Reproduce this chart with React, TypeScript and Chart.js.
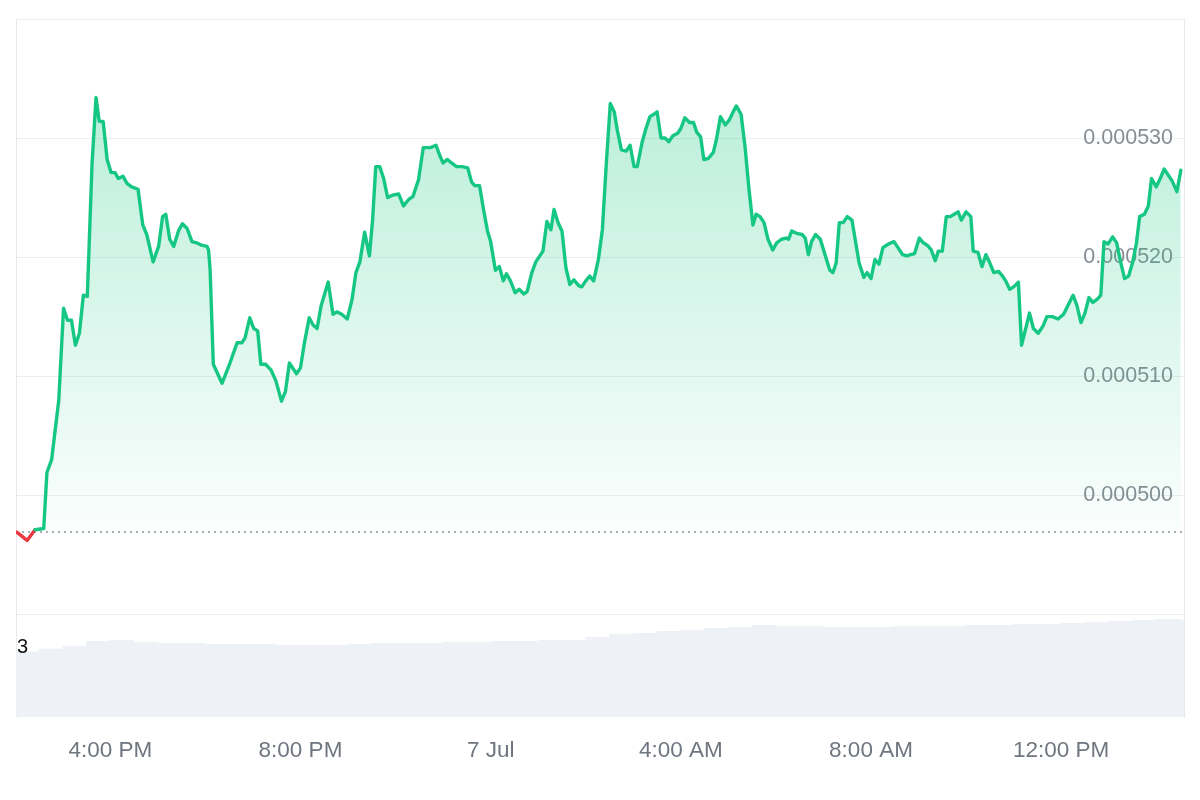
import React, { useEffect, useRef } from 'react';
import { Chart, registerables } from 'chart.js';

Chart.register(...registerables);

// Time in minutes since 2:00 PM (6 Jul)
const priceMinutes = [
  2, 15, 25, 36, 40, 46, 55, 61, 66, 71, 76, 81, 86, 91, 97, 102, 106, 111, 116, 121,
  126, 130, 136, 141, 147, 155, 161, 166, 174, 181, 186, 190, 195, 200, 206, 211, 217, 223, 229, 235,
  242, 244, 246, 250, 261, 271, 280, 286, 290, 296, 301, 306, 310, 316, 323, 329, 336, 341, 346, 351,
  355, 360, 365, 371, 376, 381, 386, 395, 401, 406, 412, 419, 425, 430, 435, 441, 447, 451, 455, 460,
  465, 470, 476, 484, 490, 496, 502, 509, 515, 519, 524, 531, 536, 540, 545, 551, 557, 564, 571, 576,
  580, 586, 591, 596, 600, 606, 611, 616, 620, 625, 631, 636, 642, 646, 652, 657, 666, 671, 676, 680,
  685, 690, 695, 700, 705, 711, 715, 720, 725, 730, 736, 741, 746, 751, 756, 760, 765, 771, 776, 781,
  785, 791, 796, 801, 806, 810, 815, 820, 825, 830, 836, 840, 845, 851, 856, 860, 865, 869, 875, 881,
  885, 890, 896, 901, 906, 910, 916, 921, 926, 931, 935, 940, 945, 950, 956, 961, 967, 973, 976, 980,
  986, 993, 997, 1001, 1005, 1010, 1016, 1022, 1028, 1032, 1036, 1040, 1045, 1050, 1056, 1060, 1065, 1071, 1075, 1080,
  1085, 1090, 1095, 1102, 1109, 1114, 1120, 1125, 1130, 1135, 1141, 1146, 1151, 1156, 1161, 1165, 1170, 1175, 1180, 1185,
  1190, 1194, 1200, 1206, 1209, 1215, 1220, 1225, 1230, 1235, 1241, 1246, 1250, 1255, 1260, 1266, 1270, 1276, 1280, 1285,
  1291, 1297, 1302, 1309, 1316, 1323, 1329, 1335, 1340, 1345, 1350, 1355, 1360, 1366, 1370, 1374, 1379, 1385, 1390, 1395,
  1400, 1405, 1410, 1415, 1419, 1425, 1430, 1434, 1440, 1445, 1450, 1455, 1460, 1466, 1471,
];

const priceValues = [
  0.0004969, 0.0004962, 0.0004971, 0.0004972, 0.0005019, 0.0005030, 0.0005080, 0.0005157, 0.0005147, 0.0005147,
  0.0005126, 0.0005136, 0.0005168, 0.0005167, 0.0005279, 0.0005334, 0.0005314, 0.0005314, 0.0005282, 0.0005271,
  0.0005271, 0.0005266, 0.0005268, 0.0005262, 0.0005259, 0.0005257, 0.0005227, 0.0005219, 0.0005196, 0.0005209,
  0.0005234, 0.0005236, 0.0005215, 0.0005209, 0.0005222, 0.0005228, 0.0005224, 0.0005213, 0.0005212, 0.0005210,
  0.0005209, 0.0005206, 0.0005189, 0.0005110, 0.0005094, 0.0005111, 0.0005128, 0.0005128, 0.0005132, 0.0005149,
  0.0005140, 0.0005138, 0.0005110, 0.0005110, 0.0005105, 0.0005096, 0.0005079, 0.0005087, 0.0005111, 0.0005106,
  0.0005102, 0.0005107, 0.0005128, 0.0005149, 0.0005143, 0.0005140, 0.0005159, 0.0005179, 0.0005152, 0.0005154,
  0.0005152, 0.0005148, 0.0005164, 0.0005187, 0.0005196, 0.0005221, 0.0005201, 0.0005231, 0.0005276, 0.0005276,
  0.0005266, 0.0005250, 0.0005252, 0.0005253, 0.0005243, 0.0005248, 0.0005251, 0.0005265, 0.0005292, 0.0005292,
  0.0005292, 0.0005294, 0.0005285, 0.0005279, 0.0005282, 0.0005279, 0.0005276, 0.0005276, 0.0005275, 0.0005263,
  0.0005260, 0.0005260, 0.0005240, 0.0005222, 0.0005213, 0.0005189, 0.0005192, 0.0005180, 0.0005186, 0.0005180,
  0.0005170, 0.0005173, 0.0005169, 0.0005171, 0.0005187, 0.0005196, 0.0005205, 0.0005230, 0.0005223, 0.0005240,
  0.0005229, 0.0005222, 0.0005191, 0.0005177, 0.0005181, 0.0005176, 0.0005175, 0.0005180, 0.0005184, 0.0005180,
  0.0005198, 0.0005223, 0.0005279, 0.0005329, 0.0005322, 0.0005306, 0.0005290, 0.0005289, 0.0005294, 0.0005276,
  0.0005276, 0.0005296, 0.0005308, 0.0005318, 0.0005320, 0.0005322, 0.0005300, 0.0005300, 0.0005297, 0.0005302,
  0.0005304, 0.0005308, 0.0005317, 0.0005313, 0.0005313, 0.0005305, 0.0005301, 0.0005282, 0.0005283, 0.0005288,
  0.0005299, 0.0005318, 0.0005311, 0.0005315, 0.0005322, 0.0005327, 0.0005320, 0.0005293, 0.0005257, 0.0005227,
  0.0005236, 0.0005234, 0.0005229, 0.0005215, 0.0005206, 0.0005212, 0.0005215, 0.0005216, 0.0005215, 0.0005222,
  0.0005220, 0.0005219, 0.0005216, 0.0005202, 0.0005213, 0.0005219, 0.0005215, 0.0005202, 0.0005189, 0.0005187,
  0.0005195, 0.0005229, 0.0005229, 0.0005234, 0.0005231, 0.0005215, 0.0005195, 0.0005183, 0.0005187, 0.0005182,
  0.0005198, 0.0005194, 0.0005208, 0.0005211, 0.0005213, 0.0005208, 0.0005202, 0.0005201, 0.0005202, 0.0005203,
  0.0005216, 0.0005212, 0.0005210, 0.0005206, 0.0005197, 0.0005205, 0.0005205, 0.0005234, 0.0005234, 0.0005236,
  0.0005238, 0.0005231, 0.0005238, 0.0005234, 0.0005205, 0.0005204, 0.0005192, 0.0005202, 0.0005195, 0.0005187,
  0.0005188, 0.0005184, 0.0005180, 0.0005173, 0.0005175, 0.0005179, 0.0005126, 0.0005142, 0.0005153, 0.0005140,
  0.0005136, 0.0005142, 0.0005150, 0.0005150, 0.0005148, 0.0005152, 0.0005160, 0.0005168, 0.0005159, 0.0005145,
  0.0005153, 0.0005166, 0.0005162, 0.0005165, 0.0005168, 0.0005213, 0.0005211, 0.0005217, 0.0005212, 0.0005196,
  0.0005182, 0.0005184, 0.0005195, 0.0005212, 0.0005234, 0.0005236, 0.0005243, 0.0005266, 0.0005259, 0.0005266,
  0.0005274, 0.0005269, 0.0005264, 0.0005255, 0.0005273,
];

const baselinePrice = 0.0004969;

// Volume (relative units), one bar per 30 minutes
const volumeMinutes = [
  15, 45, 75, 105, 135, 165, 195, 225, 255, 285, 315, 345, 375, 405, 435, 465, 495, 525, 555, 585,
  615, 645, 675, 705, 735, 765, 795, 825, 855, 885, 915, 945, 975, 1005, 1035, 1065, 1095, 1125, 1155, 1185,
  1215, 1245, 1275, 1305, 1335, 1365, 1395, 1425, 1455, 1485,
];
const volumeValues = [
  65, 68, 71, 76, 77, 75, 74, 74, 73, 73, 73, 72, 72, 72, 73, 74, 74, 74, 75, 75,
  76, 76, 77, 77, 80, 83, 84, 86, 87, 89, 90, 92, 91, 91, 90, 90, 90, 91, 91, 91,
  92, 92, 93, 93, 94, 95, 96, 97, 98, 97,
];
const volumeLabel = '3';

const xTickMinutes = [120, 360, 600, 840, 1080, 1320];
const xTickLabels = ['4:00 PM', '8:00 PM', '7 Jul', '4:00 AM', '8:00 AM', '12:00 PM'];
const priceTicks = [0.00049, 0.0005, 0.00051, 0.00052, 0.00053, 0.00054];
const priceTickLabels = ['', '0.000500', '0.000510', '0.000520', '0.000530', ''];

const GREEN = '#16c784';
const RED = '#ea3943';
const FONT = "'Liberation Sans', Arial, Helvetica, sans-serif";

export default function App() {
  const canvasRef = useRef<HTMLCanvasElement | null>(null);

  useEffect(() => {
    const canvas = canvasRef.current;
    if (!canvas) return;

    const volumeLabelPlugin = {
      id: 'volumeLabel',
      afterDatasetsDraw(chart: any) {
        const { ctx, chartArea } = chart;
        const yv = chart.scales.yVol;
        ctx.save();
        ctx.font = `20px ${FONT}`;
        ctx.fillStyle = '#111111';
        ctx.textAlign = 'left';
        ctx.textBaseline = 'middle';
        ctx.fillText(volumeLabel, chartArea.left + 1, yv.getPixelForValue(70));
        ctx.restore();
      },
    };

    const chart = new Chart(canvas, {
      type: 'line',
      data: {
        datasets: [
          {
            type: 'line',
            label: 'Price',
            data: priceMinutes.map((m, i) => ({ x: m, y: priceValues[i] })),
            yAxisID: 'y',
            order: 0,
            borderColor: GREEN,
            borderWidth: 3.4,
            pointRadius: 0,
            tension: 0,
            borderJoinStyle: 'round',
            borderCapStyle: 'round',
            segment: {
              borderColor: (c: any) =>
                (c.p0.parsed.y + c.p1.parsed.y) / 2 < baselinePrice ? RED : GREEN,
            },
            fill: { target: { value: baselinePrice }, below: 'rgba(0,0,0,0)' },
            backgroundColor: (c: any) => {
              const ch = c.chart;
              const area = ch.chartArea;
              const ys = ch.scales.y;
              if (!area || !ys) return 'rgba(22,199,132,0.15)';
              const g = ch.ctx.createLinearGradient(0, area.top, 0, ys.getPixelForValue(baselinePrice));
              g.addColorStop(0, 'rgba(22,199,132,0.34)');
              g.addColorStop(1, 'rgba(22,199,132,0.02)');
              return g;
            },
          } as any,
          {
            type: 'line',
            label: 'Start price',
            data: [
              { x: 1, y: baselinePrice },
              { x: 1475, y: baselinePrice },
            ],
            yAxisID: 'y',
            order: 1,
            borderColor: '#959595',
            borderWidth: 1.5,
            borderDash: [2, 4],
            pointRadius: 0,
            fill: false,
          } as any,
          {
            type: 'bar',
            label: 'Volume',
            data: volumeMinutes.map((m, i) => ({ x: m, y: volumeValues[i] })),
            yAxisID: 'yVol',
            order: 2,
            backgroundColor: '#eef1f5',
            borderWidth: 0,
            barPercentage: 1,
            categoryPercentage: 1,
          } as any,
        ],
      },
      options: {
        responsive: false,
        animation: false,
        layout: { padding: { left: 16, right: 16, top: 19, bottom: 16 } },
        plugins: {
          legend: { display: false },
          tooltip: { enabled: false },
        },
        scales: {
          x: {
            type: 'linear',
            min: 1,
            max: 1475,
            offset: false,
            afterBuildTicks: (s: any) => {
              s.ticks = xTickMinutes.map((v) => ({ value: v }));
            },
            ticks: {
              callback: (_v: any, i: number) => xTickLabels[i],
              color: '#6f7680',
              font: { family: FONT, size: 22.5 },
              padding: 20,
              maxRotation: 0,
              autoSkip: false,
            },
            grid: { display: false, drawTicks: false, offset: false },
            border: { display: false },
          },
          y: {
            type: 'linear',
            position: 'right',
            min: 0.00048137,
            max: 0.00054,
            afterBuildTicks: (s: any) => {
              s.ticks = priceTicks.map((v) => ({ value: v }));
            },
            ticks: {
              mirror: true,
              padding: -11,
              callback: (_v: any, i: number) => priceTickLabels[i],
              color: '#868d95',
              font: { family: FONT, size: 21.5 },
              autoSkip: false,
            },
            grid: { color: '#eceef1', drawTicks: false, lineWidth: 1 },
            border: { display: true, color: '#e6e8eb' },
          },
          yVol: {
            type: 'linear',
            position: 'left',
            min: 0,
            max: 700,
            ticks: { display: false },
            grid: { display: false, drawTicks: false },
            border: { display: true, color: '#e6e8eb' },
          },
        },
      } as any,
      plugins: [volumeLabelPlugin],
    });

    return () => chart.destroy();
  }, []);

  return (
    <div style={{ position: 'fixed', left: 0, top: 0, width: 1200, height: 800, background: '#ffffff' }}>
      <canvas ref={canvasRef} width={1200} height={800} style={{ display: 'block', width: 1200, height: 800 }} />
    </div>
  );
}
